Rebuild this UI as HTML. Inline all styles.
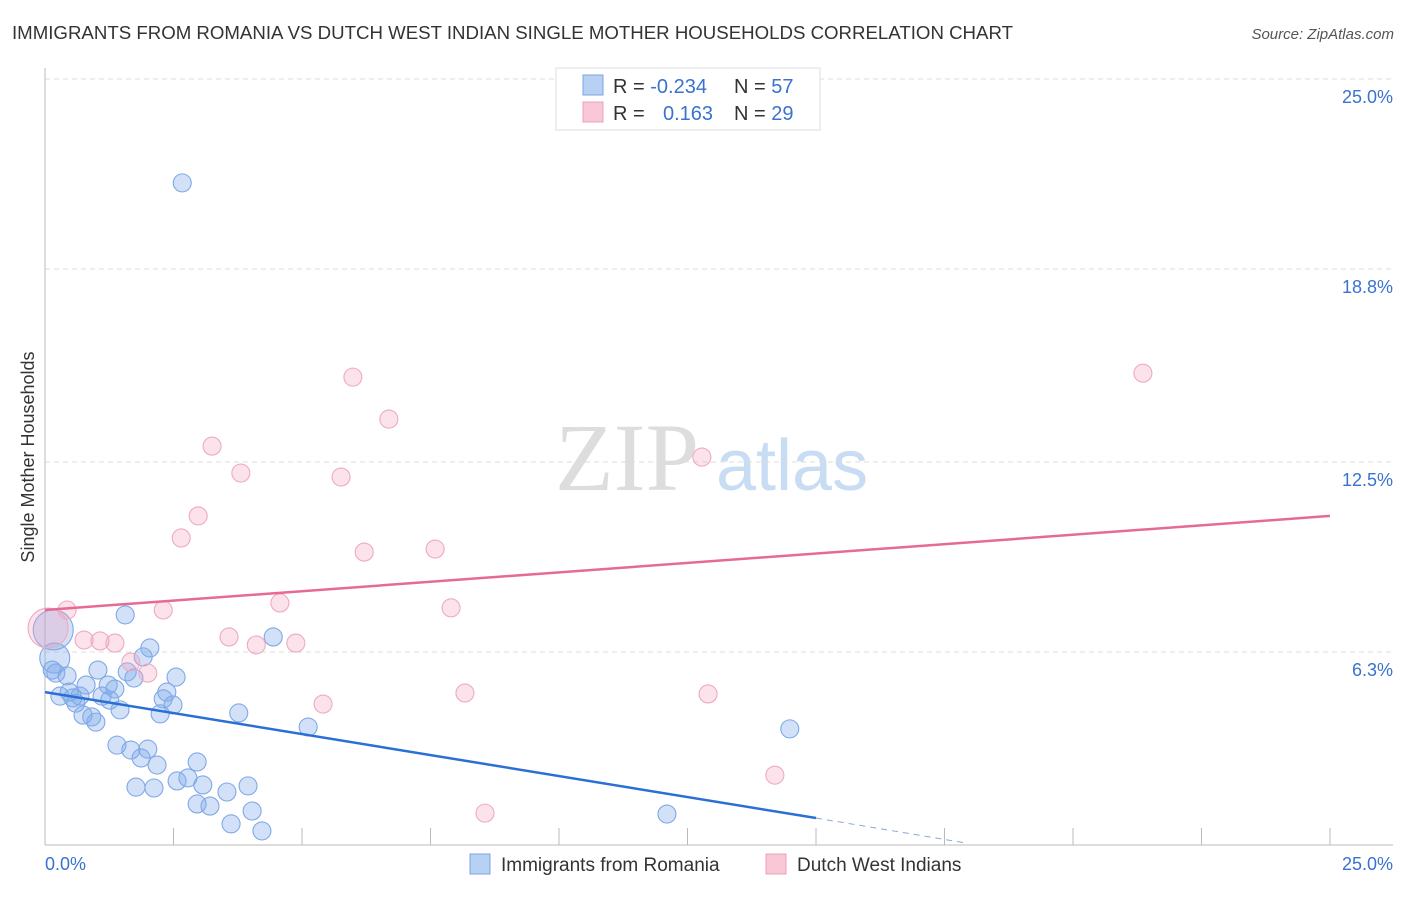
<!DOCTYPE html>
<html><head><meta charset="utf-8"><style>
body{margin:0;background:#fff;font-family:"Liberation Sans",sans-serif}
</style></head><body>
<svg width="1406" height="892" xmlns="http://www.w3.org/2000/svg" font-family="Liberation Sans, sans-serif">
<text x="12" y="39" font-size="18" fill="#333" textLength="1001" lengthAdjust="spacingAndGlyphs">IMMIGRANTS FROM ROMANIA VS DUTCH WEST INDIAN SINGLE MOTHER HOUSEHOLDS CORRELATION CHART</text>
<text x="1394" y="39" font-size="15" fill="#555" font-style="italic" text-anchor="end">Source: ZipAtlas.com</text>
<text x="555" y="490" font-size="96" font-family="Liberation Serif, serif" fill="#ddd">ZIP</text>
<text x="716" y="490" font-size="72" fill="#c8dcf3">atlas</text>
<g id="grid"></g>
<g id="axes"></g>
<g id="marks"></g>
<text transform="translate(34,457) rotate(-90)" font-size="18" fill="#333" text-anchor="middle">Single Mother Households</text>
<g>
<rect x="556" y="68" width="264" height="62" fill="#fff" stroke="#ddd"/>
<rect x="583" y="75" width="20" height="20" fill="#b8d0f3" stroke="#7aa6e6"/>
<rect x="583" y="102" width="20" height="20" fill="#f9c8d6" stroke="#eda0b8"/>
<text x="613" y="93" font-size="20" fill="#333">R = <tspan fill="#3a72d0">-0.234</tspan></text>
<text x="734" y="93" font-size="20" fill="#333">N = <tspan fill="#3a72d0">57</tspan></text>
<text x="613" y="120" font-size="20" fill="#333">R = <tspan fill="#3a72d0" x="663">0.163</tspan></text>
<text x="734" y="120" font-size="20" fill="#333">N = <tspan fill="#3a72d0">29</tspan></text>
</g>
<g>
<rect x="470" y="854" width="20" height="20" fill="#b8d0f3" stroke="#7aa6e6"/>
<text x="501" y="871" font-size="19" fill="#333">Immigrants from Romania</text>
<rect x="766" y="854" width="20" height="20" fill="#f9c8d6" stroke="#eda0b8"/>
<text x="797" y="871" font-size="19" fill="#333">Dutch West Indians</text>
</g>
</svg>
<script>
const blueX=[1.56,0.16,0.19,0.14,0.21,0.43,1.03,0.80,1.23,1.36,2.04,1.91,1.60,1.73,2.55,0.29,0.47,0.54,0.68,0.60,1.11,1.26,1.46,0.74,0.91,0.99,2.37,2.30,2.49,2.24,3.77,4.44,5.12,1.40,1.67,2.00,1.87,2.18,2.96,2.78,2.57,3.07,1.77,2.12,3.54,3.95,2.96,3.21,4.03,3.62,4.22,2.67,14.49,12.10];
const blueY=[7.51,7.02,6.10,5.71,5.61,5.52,5.71,5.22,5.22,5.09,6.43,6.14,5.65,5.45,5.48,4.86,4.99,4.80,4.86,4.63,4.86,4.73,4.41,4.24,4.18,4.01,4.99,4.77,4.57,4.28,4.31,6.79,3.85,3.26,3.10,3.13,2.84,2.61,2.71,2.19,2.09,1.96,1.89,1.86,1.73,1.93,1.34,1.27,1.11,0.69,0.46,21.61,3.79,1.01];
const pinkX=[0.43,0.06,0.76,1.07,1.36,1.67,2.00,2.30,2.65,2.98,3.25,3.81,3.58,4.11,4.57,4.88,5.41,5.76,5.99,6.21,6.69,7.59,7.90,8.17,8.56,12.78,12.90,14.20,21.36];
const pinkY=[7.67,7.08,6.69,6.66,6.59,5.97,5.61,7.67,10.02,10.74,13.02,12.14,6.79,6.53,7.90,6.59,4.60,12.01,15.27,9.56,13.90,9.66,7.74,4.96,1.04,12.66,4.93,2.28,15.40];
const yTicks=[25.0,18.8,12.5,6.3];
const yTickLabels=["25.0%","18.8%","12.5%","6.3%"];
const blueTrend=[[0,4.99],[15,0.88]];
const blueTrendDash=[[15,0.88],[17.9,0.07]];
const pinkTrend=[[0,7.67],[25,10.74]];
const NS="http://www.w3.org/2000/svg";
const sx=v=>45+v*51.4, sy=v=>845-v*30.64;
function mk(tag,attrs,parent){const e=document.createElementNS(NS,tag);for(const k in attrs)e.setAttribute(k,attrs[k]);document.getElementById(parent).appendChild(e);return e;}
yTicks.forEach((t,i)=>{
 const g=mk('line',{x1:45,x2:1393,y1:sy(t),y2:sy(t),stroke:'#ddd','stroke-dasharray':'5,4'},'grid');
 
 
 const l=mk('text',{x:1393,y:sy(t)+24,'font-size':18,fill:'#3a72d0','text-anchor':'end'},'axes');
 l.textContent=yTickLabels[i];
 
 
});
const ax=mk('line',{x1:45,x2:45,y1:68,y2:845,stroke:'#bbb'},'axes');


const bx=mk('line',{x1:45,x2:1393,y1:845,y2:845,stroke:'#bbb'},'axes');


for(let i=1;i<=10;i++){const t=mk('line',{x1:sx(i*2.5),x2:sx(i*2.5),y1:828,y2:845,stroke:'#bbb'},'axes');
 
 }
[["0.0%",45,'start'],["25.0%",1393,'end']].forEach(a=>{const t=mk('text',{x:a[1],y:870,'font-size':18,fill:'#3a72d0','text-anchor':a[2]},'axes');t.textContent=a[0];
 
 });
function dots(X,Y,fill,stroke,name){X.forEach((x,i)=>{const r=(x<0.2&&Y[i]>6)?(Y[i]>6.5?20:15):9;
 const c=mk('circle',{cx:sx(x),cy:sy(Y[i]),r:r,fill:fill,stroke:stroke,'stroke-width':1.1},'marks');
 
 });}
dots(blueX,blueY,'rgba(125,170,235,0.35)','#7fa9e6','romania-point');
dots(pinkX,pinkY,'rgba(245,160,190,0.3)','#eeaac2','dutch-west-indian-point');
function line(p,color,dash,name){const l=mk('line',{x1:sx(p[0][0]),y1:sy(p[0][1]),x2:sx(p[1][0]),y2:sy(p[1][1]),stroke:color,'stroke-width':dash?1:2.5},'marks');
 if(dash)l.setAttribute('stroke-dasharray','6,5');
 
 }
line(blueTrend,'#2a6fd6',false,'romania-trendline');
line(blueTrendDash,'#8aa8d8',true,'romania-trendline-extension');
line(pinkTrend,'#e66a94',false,'dutch-west-indian-trendline');
</script>
</body></html>
